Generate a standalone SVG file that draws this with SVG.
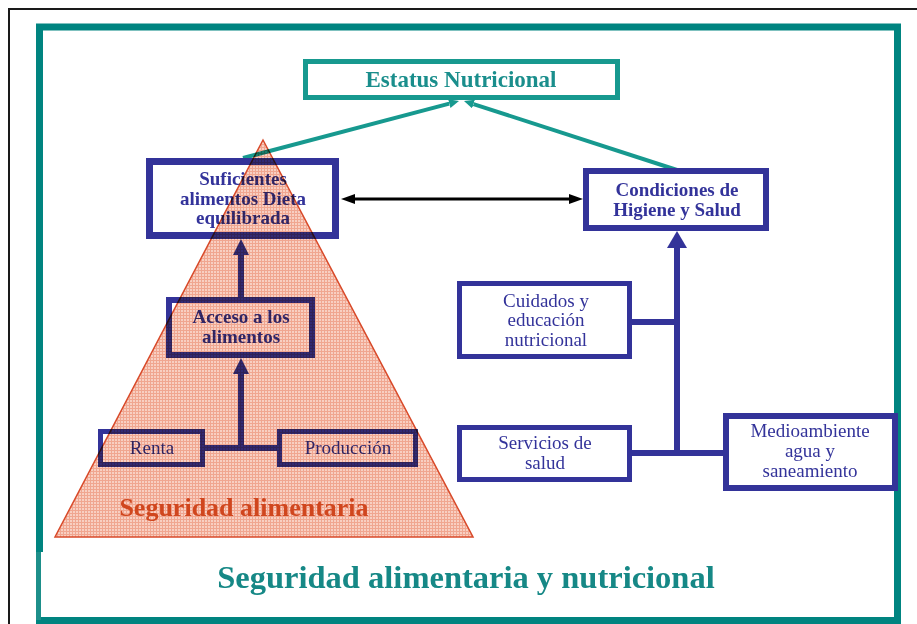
<svg xmlns="http://www.w3.org/2000/svg" width="917" height="624" viewBox="0 0 917 624">
<style>
.box{fill:#ffffff;stroke:#333399}
.t{font-family:"Liberation Serif","Times New Roman",serif;font-size:19px;fill:#33339a;text-anchor:middle}
.b{font-weight:bold}
.conn{stroke:#333399;stroke-width:6;fill:none}
.teal{stroke:#17998f;stroke-width:4;fill:none}
</style>
<defs>
<marker id="ab" viewBox="0 0 16 16" refX="0" refY="8" markerWidth="16" markerHeight="16" markerUnits="userSpaceOnUse" orient="auto"><path d="M0,0 L16,8 L0,16 z" fill="#333399"/></marker>
<marker id="abig" viewBox="0 0 17 20" refX="0" refY="10" markerWidth="17" markerHeight="20" markerUnits="userSpaceOnUse" orient="auto"><path d="M0,0 L17,10 L0,20 z" fill="#333399"/></marker>
<marker id="ak" viewBox="0 0 14 10" refX="0" refY="5" markerWidth="14" markerHeight="10" markerUnits="userSpaceOnUse" orient="auto-start-reverse"><path d="M0,0 L14,5 L0,10 z" fill="#000000"/></marker>
<marker id="at" viewBox="0 0 10 9" refX="0" refY="4.5" markerWidth="10" markerHeight="9" markerUnits="userSpaceOnUse" orient="auto"><path d="M0,0 L10,4.5 L0,9 z" fill="#17998f"/></marker>
<pattern id="grid" width="3" height="3" patternUnits="userSpaceOnUse">
<rect width="3" height="3" fill="#f8cfc2"/>
<path d="M0,0.5 H3 M0.5,0 V3" stroke="#f0a690" stroke-width="1"/>
</pattern>
</defs>
<rect width="917" height="624" fill="#ffffff"/>
<!-- outer frames -->
<path d="M9,630 V9 H930" fill="none" stroke="#1a1a1a" stroke-width="2"/>
<path d="M39.5,552 V27 H897.5 V620.5 H36" fill="none" stroke="#008480" stroke-width="7"/>
<path d="M38.5,552 V620" fill="none" stroke="#1d8f8a" stroke-width="5"/>

<g id="connectors">
<line class="teal" x1="243" y1="158" x2="449.3" y2="103.6" marker-end="url(#at)"/>
<line class="teal" x1="677" y1="170" x2="473.5" y2="104.1" marker-end="url(#at)"/>
<line x1="355" y1="199" x2="569" y2="199" stroke="#000000" stroke-width="3" marker-start="url(#ak)" marker-end="url(#ak)"/>
<line class="conn" x1="241" y1="297" x2="241" y2="255" marker-end="url(#ab)"/>
<path class="conn" stroke-width="5" d="M205,448 H277"/>
<line class="conn" x1="241" y1="450" x2="241" y2="374" marker-end="url(#ab)"/>
<path class="conn" stroke-width="5" d="M632,322 H677 M632,453 H723"/>
<line class="conn" x1="677" y1="455" x2="677" y2="248" marker-end="url(#abig)"/>
</g>

<g id="estatus">
<rect x="305.5" y="61.5" width="312" height="36" fill="#ffffff" stroke="#17998f" stroke-width="5"/>
<text class="t b" x="461" y="87" style="font-size:23px;fill:#1a8e8c">Estatus Nutricional</text>
</g>
<g id="suficientes">
<rect class="box" x="149.5" y="161.5" width="186" height="74" stroke-width="7"/>
<text class="t b" x="243" y="185">Suficientes</text>
<text class="t b" x="243" y="205">alimentos Dieta</text>
<text class="t b" x="243" y="224">equilibrada</text>
</g>
<g id="acceso">
<rect class="box" x="169" y="300" width="143" height="55" stroke-width="6"/>
<text class="t b" x="241" y="323">Acceso a los</text>
<text class="t b" x="241" y="343">alimentos</text>
</g>
<g id="renta">
<rect class="box" x="100.5" y="431.5" width="102" height="33" stroke-width="5"/>
<text class="t" x="152" y="454">Renta</text>
</g>
<g id="produccion">
<rect class="box" x="279.5" y="431.5" width="136" height="33" stroke-width="5"/>
<text class="t" x="348" y="454">Producción</text>
</g>
<g id="condiciones">
<rect class="box" x="586" y="171" width="180" height="57" stroke-width="6"/>
<text class="t b" x="677" y="196">Condiciones de</text>
<text class="t b" x="677" y="216">Higiene y Salud</text>
</g>
<g id="cuidados">
<rect class="box" x="459.5" y="283.5" width="170" height="73" stroke-width="5"/>
<text class="t" x="546" y="307">Cuidados y</text>
<text class="t" x="546" y="326">educación</text>
<text class="t" x="546" y="346">nutricional</text>
</g>
<g id="servicios">
<rect class="box" x="459.5" y="427.5" width="170" height="52" stroke-width="5"/>
<text class="t" x="545" y="449">Servicios de</text>
<text class="t" x="545" y="469">salud</text>
</g>
<g id="medioambiente">
<rect class="box" x="726" y="416" width="169" height="72" stroke-width="6"/>
<text class="t" x="810" y="437">Medioambiente</text>
<text class="t" x="810" y="457">agua y</text>
<text class="t" x="810" y="477">saneamiento</text>
</g>

<g id="piramide">
<polygon points="263,140 473,537 55,537" fill="url(#grid)" stroke="#d84a2a" stroke-width="1.5" style="mix-blend-mode:multiply"/>
<text class="t b" x="244" y="516" style="font-size:26px;fill:#d0461e">Seguridad alimentaria</text>
</g>

<g id="titulo">
<text class="t b" x="466" y="588" style="font-size:32.5px;fill:#168886">Seguridad alimentaria y nutricional</text>
</g>
</svg>
